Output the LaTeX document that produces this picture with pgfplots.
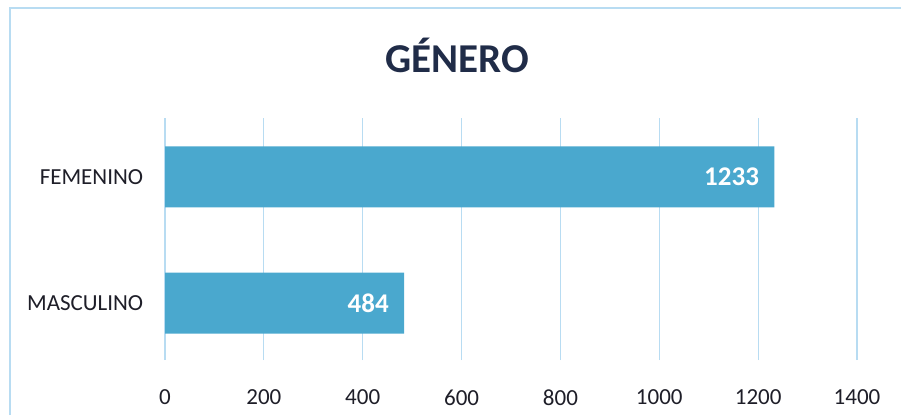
\documentclass[border=0pt]{standalone}
\usepackage{pgfplots}
\pgfplotsset{compat=1.18}
\usepackage{fontspec}
\setmainfont{Carlito}
\definecolor{barblue}{RGB}{74,168,206}
\definecolor{gridblue}{RGB}{184,220,242}
\definecolor{titlenavy}{RGB}{32,44,72}
\definecolor{labeldark}{RGB}{30,30,40}
\begin{document}
\begin{tikzpicture}[x=1pt,y=1pt]
\useasboundingbox (0,0) rectangle (901,415);
\draw[gridblue,line width=1.2pt] (10,0) -- (10,407) -- (901,407);
\node[font=\bfseries\fontsize{41}{41}\selectfont,text=titlenavy] at (457,360) {GÉNERO};
\begin{axis}[
  at={(165pt,55pt)}, anchor=south west,
  scale only axis, width=692pt, height=242pt,
  xmin=0, xmax=1400, ymin=-0.452, ymax=1.468,
  xtick={0,200,...,1400},
  ytick={0,1}, yticklabels={MASCULINO,FEMENINO},
  xbar, bar width=61pt,
  axis line style={draw=none},
  tick style={draw=none},
  xmajorgrids, major grid style={gridblue,line width=1.1pt},
  ticklabel style={font=\fontsize{23}{23}\selectfont,text=labeldark},
  /pgf/number format/assume math mode=true,
  /pgf/number format/1000 sep={},
  xticklabel style={yshift=-26pt},
  yticklabel style={xshift=-14pt},
  nodes near coords,
  nodes near coords style={anchor=east,xshift=-12pt,text=white,font=\bfseries\fontsize{27}{27}\selectfont},
  every node near coord/.append style={/pgf/number format/1000 sep={}},
]
\addplot[fill=barblue,draw=none] coordinates {(484,0) (1233,1)};
\end{axis}
\end{tikzpicture}
\end{document}
